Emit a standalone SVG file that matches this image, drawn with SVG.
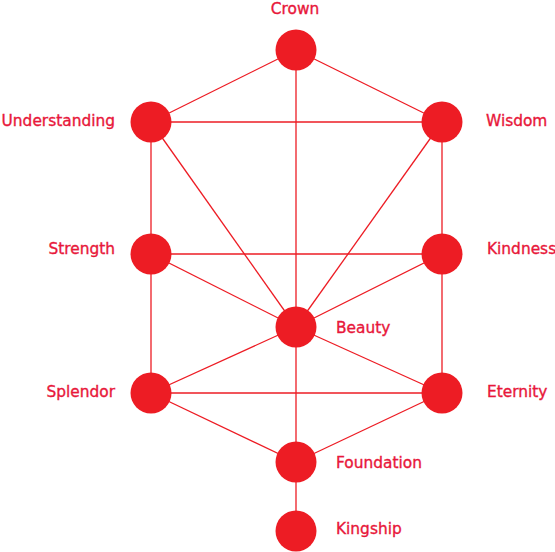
<svg xmlns="http://www.w3.org/2000/svg" width="555" height="552" viewBox="0 0 555 552">
<style>
.e{stroke:#ED1C24;stroke-width:1.3;fill:none}
.n circle{fill:#ED1C24}
text{font-family:"DejaVu Sans","Liberation Sans",sans-serif;font-size:15.4px;fill:#E8173A;stroke:#E8173A;stroke-width:0.35}
.r{text-anchor:end}
.m{text-anchor:middle}
</style>
<rect width="555" height="552" fill="#fff"/>
<g id="connectors">
<line class="e" x1="296" y1="50" x2="151" y2="122"/>
<line class="e" x1="296" y1="50" x2="442" y2="122"/>
<line class="e" x1="296" y1="50" x2="296" y2="327"/>
<line class="e" x1="151" y1="122" x2="442" y2="122"/>
<line class="e" x1="151" y1="122" x2="151" y2="254"/>
<line class="e" x1="151" y1="122" x2="296" y2="327"/>
<line class="e" x1="442" y1="122" x2="442" y2="254"/>
<line class="e" x1="442" y1="122" x2="296" y2="327"/>
<line class="e" x1="151" y1="254" x2="442" y2="254"/>
<line class="e" x1="151" y1="254" x2="296" y2="327"/>
<line class="e" x1="442" y1="254" x2="296" y2="327"/>
<line class="e" x1="151" y1="254" x2="151" y2="393"/>
<line class="e" x1="442" y1="254" x2="442" y2="393"/>
<line class="e" x1="296" y1="327" x2="151" y2="393"/>
<line class="e" x1="296" y1="327" x2="442" y2="393"/>
<line class="e" x1="151" y1="393" x2="442" y2="393"/>
<line class="e" x1="151" y1="393" x2="296" y2="462"/>
<line class="e" x1="442" y1="393" x2="296" y2="462"/>
<line class="e" x1="296" y1="327" x2="296" y2="462"/>
<line class="e" x1="296" y1="462" x2="296" y2="531"/>
</g>
<g id="crown" class="n"><circle cx="296" cy="50" r="20.5"/><text class="m" x="295" y="13.5">Crown</text></g>
<g id="understanding" class="n"><circle cx="151" cy="122" r="20.5"/><text class="r" x="115" y="125.5">Understanding</text></g>
<g id="wisdom" class="n"><circle cx="442" cy="122" r="20.5"/><text x="486" y="125.5">Wisdom</text></g>
<g id="strength" class="n"><circle cx="151" cy="254" r="20.5"/><text class="r" x="115" y="253.5">Strength</text></g>
<g id="kindness" class="n"><circle cx="442" cy="254" r="20.5"/><text x="487" y="253.5">Kindness</text></g>
<g id="beauty" class="n"><circle cx="296" cy="327" r="20.5"/><text x="336" y="332.5">Beauty</text></g>
<g id="splendor" class="n"><circle cx="151" cy="393" r="20.5"/><text class="r" x="115" y="396.8">Splendor</text></g>
<g id="eternity" class="n"><circle cx="442" cy="393" r="20.5"/><text x="487" y="396.8">Eternity</text></g>
<g id="foundation" class="n"><circle cx="296" cy="462" r="20.5"/><text x="336" y="468.3">Foundation</text></g>
<g id="kingship" class="n"><circle cx="296" cy="531" r="20.5"/><text x="336" y="533.5">Kingship</text></g>
</svg>
